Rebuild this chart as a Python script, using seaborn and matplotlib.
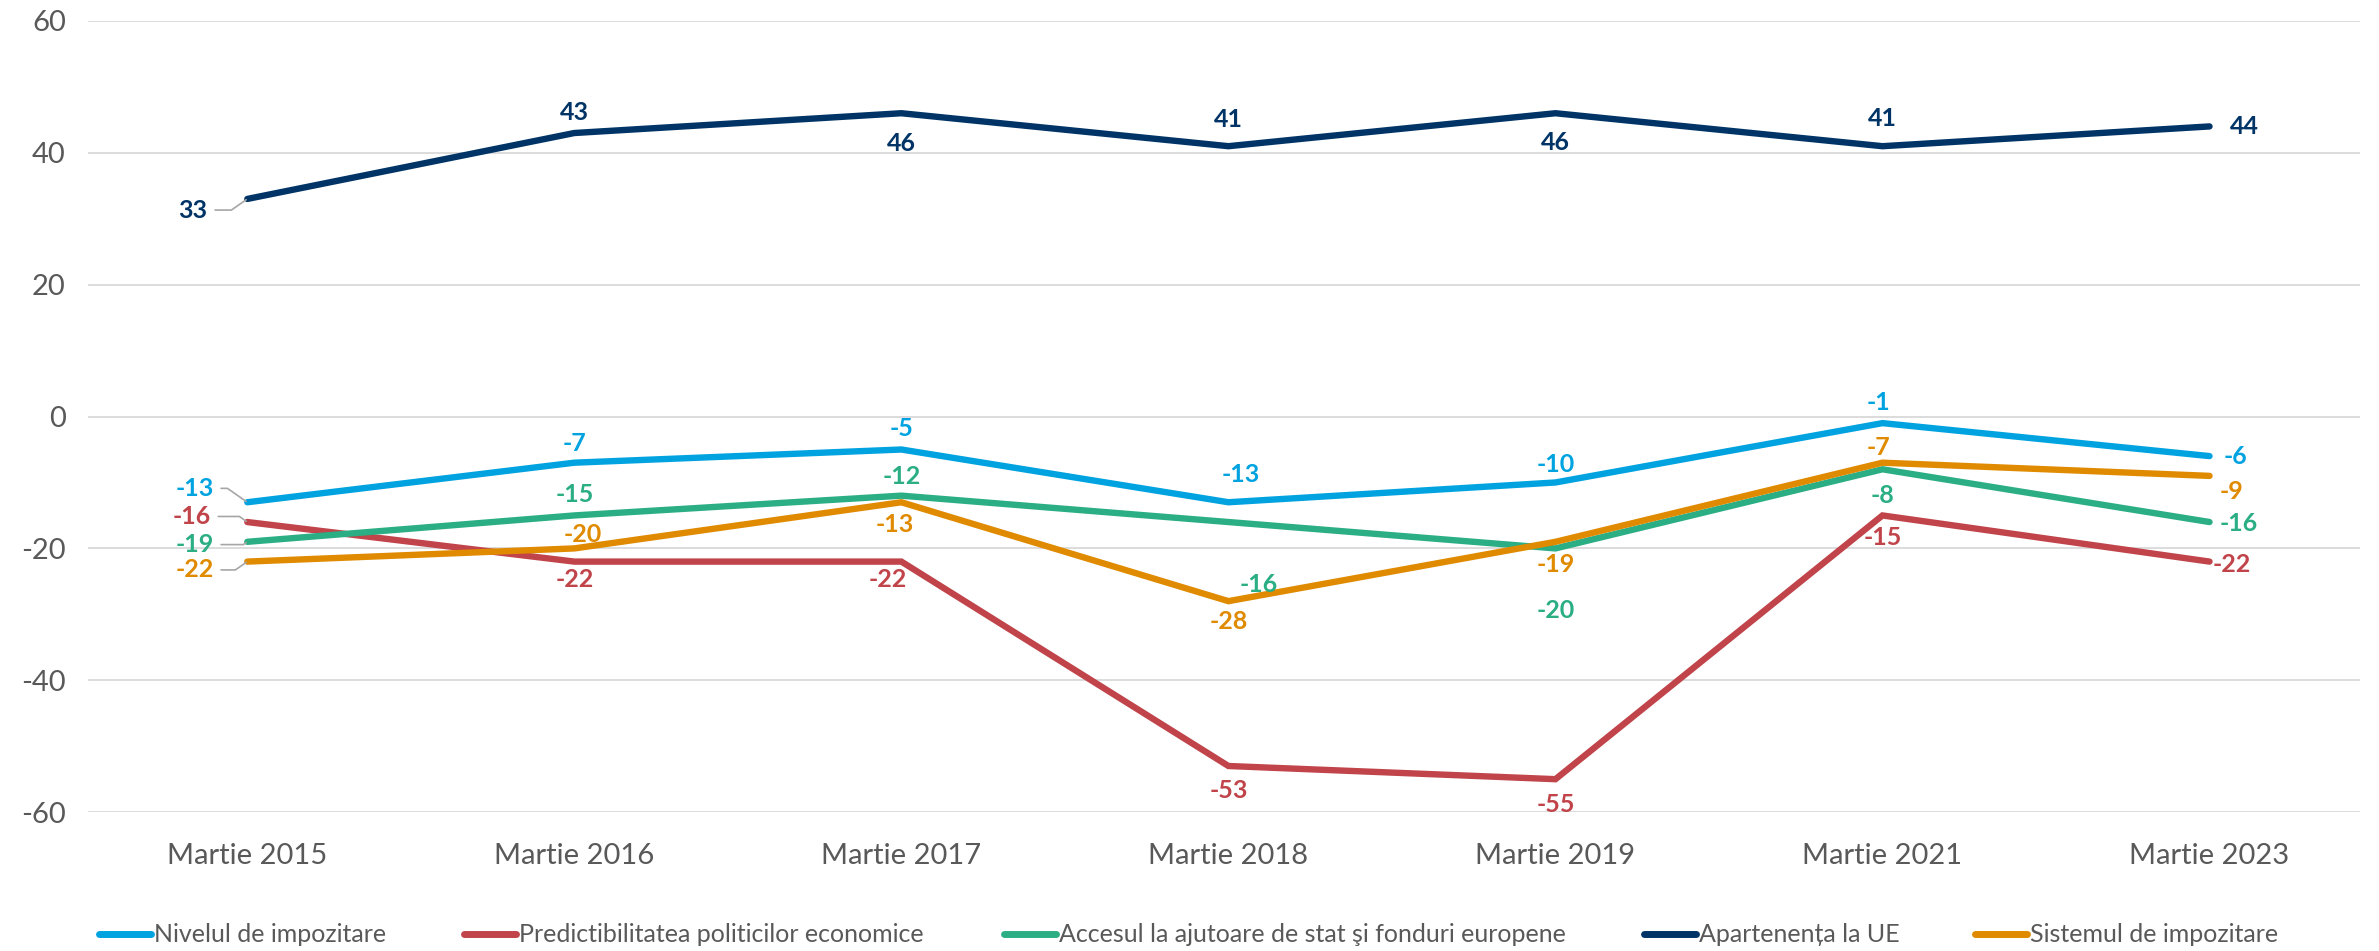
import numpy as np
import pandas as pd
import seaborn as sns
import matplotlib.pyplot as plt
from matplotlib.lines import Line2D

periods = ["Martie 2015", "Martie 2016", "Martie 2017", "Martie 2018",
           "Martie 2019", "Martie 2021", "Martie 2023"]

series_names = ["Nivelul de impozitare",
                "Predictibilitatea politicilor economice",
                "Accesul la ajutoare de stat şi fonduri europene",
                "Apartenența la UE",
                "Sistemul de impozitare"]

nivelul = [-13, -7, -5, -13, -10, -1, -6]
predictibilitate = [-16, -22, -22, -53, -55, -15, -22]
accesul = [-19, -15, -12, -16, -20, -8, -16]
apartenenta = [33, 43, 46, 41, 46, 41, 44]
sistemul = [-22, -20, -13, -28, -19, -7, -9]

colors = ["#00A3E0", "#C0444A", "#2BAE84", "#003466", "#E08A00"]

# label offsets (points) for each data label, picked by eye
offsets = {
    0: [(-38, 10), (0, 14), (0, 15), (9, 20), (0, 13), (-3, 15), (19, 0)],
    1: [(-40, 4), (0, -13), (-10, -13), (0, -18), (0, -18), (0, -16), (16, -2)],
    2: [(-38, -2), (0, 15), (0, 14), (22, -45), (0, -45), (0, -19), (21, -1)],
    3: [(-39, -8), (0, 15), (0, -22), (0, 19), (0, -21), (0, 20), (25, 0)],
    4: [(-38, -6), (6, 10), (-5, -16), (0, -15), (0, -16), (-3, 11), (16, -11)],
}
# leader line angle at the point for the first labels
leader_angle = [145, 145, 35, 35, 35]

all_values = [nivelul, predictibilitate, accesul, apartenenta, sistemul]
df = pd.concat([pd.DataFrame({"Perioada": periods, "Valoare": v, "Serie": n})
                for n, v in zip(series_names, all_values)])

sns.set_style("white")
plt.rcParams["font.family"] = ["Lato", "DejaVu Sans"]
plt.rcParams["axes.unicode_minus"] = False

fig = plt.figure(figsize=(23.79, 9.51), dpi=100)
ax = fig.add_axes([0.037, 0.146, 0.955, 0.832])

sns.lineplot(data=df, x="Perioada", y="Valoare", hue="Serie",
             hue_order=series_names, palette=colors, linewidth=4.6,
             sort=False, legend=False, ax=ax,
             solid_capstyle="round", solid_joinstyle="miter")

for k, vals in enumerate(all_values):
    for i, v in enumerate(vals):
        dx, dy = offsets[k][i]
        kw = dict(textcoords="offset points", ha="center", va="center",
                  fontsize=18, fontweight="bold", color=colors[k])
        if i == 0:
            kw["arrowprops"] = dict(arrowstyle="-", color="#A6A6A6", lw=1.2,
                                    shrinkA=3, shrinkB=1,
                                    connectionstyle="angle,angleA=0,angleB=%d,rad=0" % leader_angle[k])
        ax.annotate(str(v), xy=(i, v), xytext=(dx, dy), **kw)

ax.set_ylim(-60, 60)
ax.set_xlim(-0.487, 6.46)
ax.set_yticks(range(-60, 61, 20))
ax.yaxis.grid(True, color="#D9D9D9", linewidth=1.3)
ax.xaxis.grid(False)
for s in ax.spines.values():
    s.set_visible(False)
ax.tick_params(axis="both", length=0, labelsize=21, labelcolor="#595959")
ax.tick_params(axis="y", pad=16)
ax.tick_params(axis="x", pad=22)
ax.set_xlabel("")
ax.set_ylabel("")

# one legend entry per box so each sits where the reference has it
legend_x = [0.0415, 0.195, 0.422, 0.691, 0.830]
for c, name, lx in zip(colors, series_names, legend_x):
    h = Line2D([0], [0], color=c, lw=5, solid_capstyle="round")
    fig.legend([h], [name], loc="center left", bbox_to_anchor=(lx, 0.017),
               frameon=False, fontsize=18, handlelength=2.1, handletextpad=0.1,
               borderpad=0, borderaxespad=0, labelcolor="#595959")

fig.savefig("out.png", dpi=100)
